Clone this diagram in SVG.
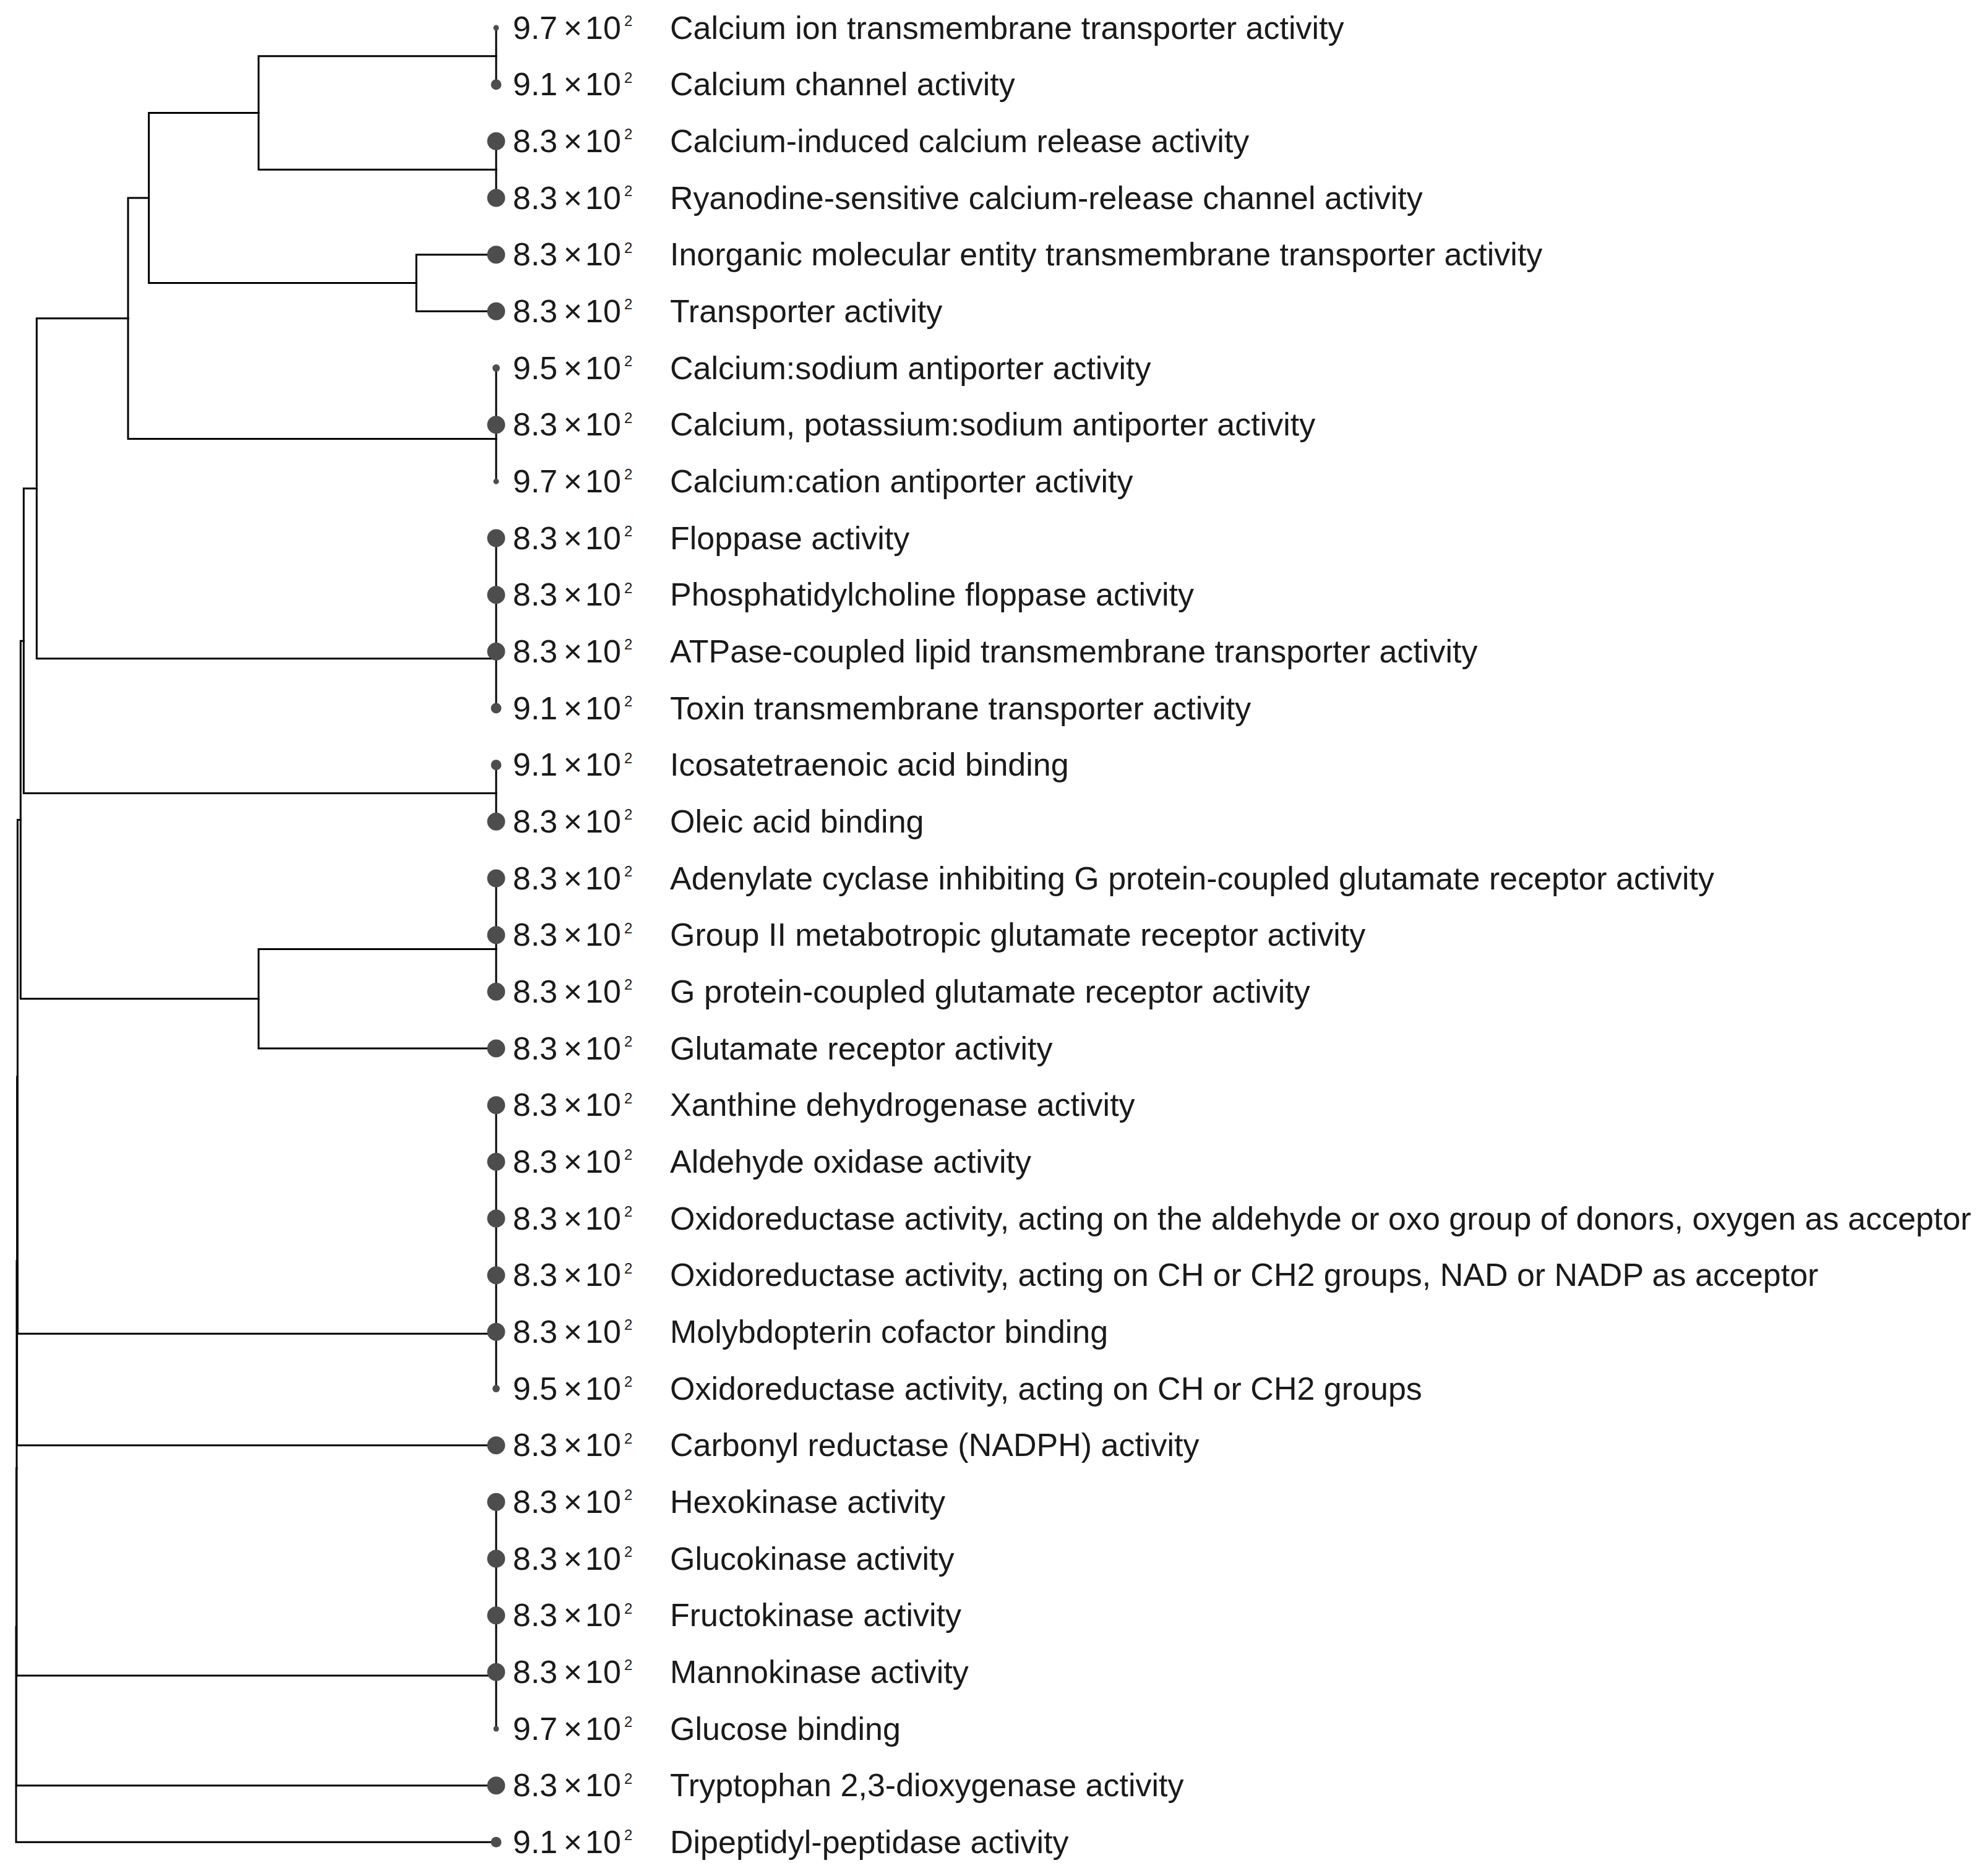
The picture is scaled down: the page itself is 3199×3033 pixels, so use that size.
<svg xmlns="http://www.w3.org/2000/svg" width="3199" height="3033" viewBox="0 0 3199 3033">
<style>
.edge{fill:none;stroke:#000;stroke-width:3;stroke-linecap:square}
.dot{fill:#4d4d4d}
.num,.lbl{font-family:'Liberation Sans',Arial,sans-serif;font-size:52px;fill:#1a1a1a}
.x{font-family:'Liberation Sans',Arial,sans-serif;font-size:52px;fill:#1a1a1a;text-anchor:middle}
.sup{font-family:'Liberation Sans',Arial,sans-serif;font-size:24px;fill:#1a1a1a}
</style>
<rect width="3199" height="3033" fill="#fff"/>
<g id="connectors" class="edge">
<path d="M802 45V136.67M802 228.33V320M802 595V778.33M802 870V1145M802 1236.67V1328.33M802 1420V1603.33M802 1786.67V2245M802 2428.33V2795"/>
<path d="M418 90.83H802M418 274.17H802M418 90.83V274.17"/>
<path d="M673 411.67H802M673 503.33H802M673 411.67V503.33"/>
<path d="M240.6 182.5H418M240.6 457.5H673M240.6 182.5V457.5"/>
<path d="M207 320H240.6M207 709.58H802M207 320V709.58"/>
<path d="M59.3 514.79H207M59.3 1064.79H802M59.3 514.79V1064.79"/>
<path d="M38.3 789.79H59.3M38.3 1282.5H802M38.3 789.79V1282.5"/>
<path d="M418 1534.58H802M418 1695H802M418 1534.58V1695"/>
<path d="M33.3 1036.15H38.3M33.3 1614.79H418M33.3 1036.15V1614.79"/>
<path d="M28.4 1325.47H33.3M28.4 2156.2H802M28.4 1325.47V2156.2"/>
<path d="M27.6 1740.8H28.4M27.6 2336.67H802M27.6 1740.8V2336.67"/>
<path d="M27 2038.7H27.6M27 2709.06H802M27 2038.7V2709.06"/>
<path d="M26.5 2373.9H27M26.5 2886.67H802M26.5 2373.9V2886.67"/>
<path d="M26 2630.3H26.5M26 2978.33H802M26 2630.3V2978.33"/>
</g>
<g id="row1"><circle class="dot" cx="802" cy="45" r="4.5"/><text class="num" x="829" y="62.5">9.7</text><text class="x" x="926" y="62.5">×</text><text class="num" x="946" y="62.5">10</text><text class="sup" x="1009" y="42">2</text><text class="lbl" x="1083" y="62.5">Calcium ion transmembrane transporter activity</text></g>
<g id="row2"><circle class="dot" cx="802" cy="136.67" r="8.5"/><text class="num" x="829" y="154.17">9.1</text><text class="x" x="926" y="154.17">×</text><text class="num" x="946" y="154.17">10</text><text class="sup" x="1009" y="133.67">2</text><text class="lbl" x="1083" y="154.17">Calcium channel activity</text></g>
<g id="row3"><circle class="dot" cx="802" cy="228.33" r="14.5"/><text class="num" x="829" y="245.83">8.3</text><text class="x" x="926" y="245.83">×</text><text class="num" x="946" y="245.83">10</text><text class="sup" x="1009" y="225.33">2</text><text class="lbl" x="1083" y="245.83">Calcium-induced calcium release activity</text></g>
<g id="row4"><circle class="dot" cx="802" cy="320" r="14.5"/><text class="num" x="829" y="337.5">8.3</text><text class="x" x="926" y="337.5">×</text><text class="num" x="946" y="337.5">10</text><text class="sup" x="1009" y="317">2</text><text class="lbl" x="1083" y="337.5">Ryanodine-sensitive calcium-release channel activity</text></g>
<g id="row5"><circle class="dot" cx="802" cy="411.67" r="14.5"/><text class="num" x="829" y="429.17">8.3</text><text class="x" x="926" y="429.17">×</text><text class="num" x="946" y="429.17">10</text><text class="sup" x="1009" y="408.67">2</text><text class="lbl" x="1083" y="429.17">Inorganic molecular entity transmembrane transporter activity</text></g>
<g id="row6"><circle class="dot" cx="802" cy="503.33" r="14.5"/><text class="num" x="829" y="520.83">8.3</text><text class="x" x="926" y="520.83">×</text><text class="num" x="946" y="520.83">10</text><text class="sup" x="1009" y="500.33">2</text><text class="lbl" x="1083" y="520.83">Transporter activity</text></g>
<g id="row7"><circle class="dot" cx="802" cy="595" r="6"/><text class="num" x="829" y="612.5">9.5</text><text class="x" x="926" y="612.5">×</text><text class="num" x="946" y="612.5">10</text><text class="sup" x="1009" y="592">2</text><text class="lbl" x="1083" y="612.5">Calcium:sodium antiporter activity</text></g>
<g id="row8"><circle class="dot" cx="802" cy="686.67" r="14.5"/><text class="num" x="829" y="704.17">8.3</text><text class="x" x="926" y="704.17">×</text><text class="num" x="946" y="704.17">10</text><text class="sup" x="1009" y="683.67">2</text><text class="lbl" x="1083" y="704.17">Calcium, potassium:sodium antiporter activity</text></g>
<g id="row9"><circle class="dot" cx="802" cy="778.33" r="4.5"/><text class="num" x="829" y="795.83">9.7</text><text class="x" x="926" y="795.83">×</text><text class="num" x="946" y="795.83">10</text><text class="sup" x="1009" y="775.33">2</text><text class="lbl" x="1083" y="795.83">Calcium:cation antiporter activity</text></g>
<g id="row10"><circle class="dot" cx="802" cy="870" r="14.5"/><text class="num" x="829" y="887.5">8.3</text><text class="x" x="926" y="887.5">×</text><text class="num" x="946" y="887.5">10</text><text class="sup" x="1009" y="867">2</text><text class="lbl" x="1083" y="887.5">Floppase activity</text></g>
<g id="row11"><circle class="dot" cx="802" cy="961.67" r="14.5"/><text class="num" x="829" y="979.17">8.3</text><text class="x" x="926" y="979.17">×</text><text class="num" x="946" y="979.17">10</text><text class="sup" x="1009" y="958.67">2</text><text class="lbl" x="1083" y="979.17">Phosphatidylcholine floppase activity</text></g>
<g id="row12"><circle class="dot" cx="802" cy="1053.33" r="14.5"/><text class="num" x="829" y="1070.83">8.3</text><text class="x" x="926" y="1070.83">×</text><text class="num" x="946" y="1070.83">10</text><text class="sup" x="1009" y="1050.33">2</text><text class="lbl" x="1083" y="1070.83">ATPase-coupled lipid transmembrane transporter activity</text></g>
<g id="row13"><circle class="dot" cx="802" cy="1145" r="8.5"/><text class="num" x="829" y="1162.5">9.1</text><text class="x" x="926" y="1162.5">×</text><text class="num" x="946" y="1162.5">10</text><text class="sup" x="1009" y="1142">2</text><text class="lbl" x="1083" y="1162.5">Toxin transmembrane transporter activity</text></g>
<g id="row14"><circle class="dot" cx="802" cy="1236.67" r="8.5"/><text class="num" x="829" y="1254.17">9.1</text><text class="x" x="926" y="1254.17">×</text><text class="num" x="946" y="1254.17">10</text><text class="sup" x="1009" y="1233.67">2</text><text class="lbl" x="1083" y="1254.17">Icosatetraenoic acid binding</text></g>
<g id="row15"><circle class="dot" cx="802" cy="1328.33" r="14.5"/><text class="num" x="829" y="1345.83">8.3</text><text class="x" x="926" y="1345.83">×</text><text class="num" x="946" y="1345.83">10</text><text class="sup" x="1009" y="1325.33">2</text><text class="lbl" x="1083" y="1345.83">Oleic acid binding</text></g>
<g id="row16"><circle class="dot" cx="802" cy="1420" r="14.5"/><text class="num" x="829" y="1437.5">8.3</text><text class="x" x="926" y="1437.5">×</text><text class="num" x="946" y="1437.5">10</text><text class="sup" x="1009" y="1417">2</text><text class="lbl" x="1083" y="1437.5">Adenylate cyclase inhibiting G protein-coupled glutamate receptor activity</text></g>
<g id="row17"><circle class="dot" cx="802" cy="1511.67" r="14.5"/><text class="num" x="829" y="1529.17">8.3</text><text class="x" x="926" y="1529.17">×</text><text class="num" x="946" y="1529.17">10</text><text class="sup" x="1009" y="1508.67">2</text><text class="lbl" x="1083" y="1529.17">Group II metabotropic glutamate receptor activity</text></g>
<g id="row18"><circle class="dot" cx="802" cy="1603.33" r="14.5"/><text class="num" x="829" y="1620.83">8.3</text><text class="x" x="926" y="1620.83">×</text><text class="num" x="946" y="1620.83">10</text><text class="sup" x="1009" y="1600.33">2</text><text class="lbl" x="1083" y="1620.83">G protein-coupled glutamate receptor activity</text></g>
<g id="row19"><circle class="dot" cx="802" cy="1695" r="14.5"/><text class="num" x="829" y="1712.5">8.3</text><text class="x" x="926" y="1712.5">×</text><text class="num" x="946" y="1712.5">10</text><text class="sup" x="1009" y="1692">2</text><text class="lbl" x="1083" y="1712.5">Glutamate receptor activity</text></g>
<g id="row20"><circle class="dot" cx="802" cy="1786.67" r="14.5"/><text class="num" x="829" y="1804.17">8.3</text><text class="x" x="926" y="1804.17">×</text><text class="num" x="946" y="1804.17">10</text><text class="sup" x="1009" y="1783.67">2</text><text class="lbl" x="1083" y="1804.17">Xanthine dehydrogenase activity</text></g>
<g id="row21"><circle class="dot" cx="802" cy="1878.33" r="14.5"/><text class="num" x="829" y="1895.83">8.3</text><text class="x" x="926" y="1895.83">×</text><text class="num" x="946" y="1895.83">10</text><text class="sup" x="1009" y="1875.33">2</text><text class="lbl" x="1083" y="1895.83">Aldehyde oxidase activity</text></g>
<g id="row22"><circle class="dot" cx="802" cy="1970" r="14.5"/><text class="num" x="829" y="1987.5">8.3</text><text class="x" x="926" y="1987.5">×</text><text class="num" x="946" y="1987.5">10</text><text class="sup" x="1009" y="1967">2</text><text class="lbl" x="1083" y="1987.5">Oxidoreductase activity, acting on the aldehyde or oxo group of donors, oxygen as acceptor</text></g>
<g id="row23"><circle class="dot" cx="802" cy="2061.67" r="14.5"/><text class="num" x="829" y="2079.17">8.3</text><text class="x" x="926" y="2079.17">×</text><text class="num" x="946" y="2079.17">10</text><text class="sup" x="1009" y="2058.67">2</text><text class="lbl" x="1083" y="2079.17">Oxidoreductase activity, acting on CH or CH2 groups, NAD or NADP as acceptor</text></g>
<g id="row24"><circle class="dot" cx="802" cy="2153.33" r="14.5"/><text class="num" x="829" y="2170.83">8.3</text><text class="x" x="926" y="2170.83">×</text><text class="num" x="946" y="2170.83">10</text><text class="sup" x="1009" y="2150.33">2</text><text class="lbl" x="1083" y="2170.83">Molybdopterin cofactor binding</text></g>
<g id="row25"><circle class="dot" cx="802" cy="2245" r="6"/><text class="num" x="829" y="2262.5">9.5</text><text class="x" x="926" y="2262.5">×</text><text class="num" x="946" y="2262.5">10</text><text class="sup" x="1009" y="2242">2</text><text class="lbl" x="1083" y="2262.5">Oxidoreductase activity, acting on CH or CH2 groups</text></g>
<g id="row26"><circle class="dot" cx="802" cy="2336.67" r="14.5"/><text class="num" x="829" y="2354.17">8.3</text><text class="x" x="926" y="2354.17">×</text><text class="num" x="946" y="2354.17">10</text><text class="sup" x="1009" y="2333.67">2</text><text class="lbl" x="1083" y="2354.17">Carbonyl reductase (NADPH) activity</text></g>
<g id="row27"><circle class="dot" cx="802" cy="2428.33" r="14.5"/><text class="num" x="829" y="2445.83">8.3</text><text class="x" x="926" y="2445.83">×</text><text class="num" x="946" y="2445.83">10</text><text class="sup" x="1009" y="2425.33">2</text><text class="lbl" x="1083" y="2445.83">Hexokinase activity</text></g>
<g id="row28"><circle class="dot" cx="802" cy="2520" r="14.5"/><text class="num" x="829" y="2537.5">8.3</text><text class="x" x="926" y="2537.5">×</text><text class="num" x="946" y="2537.5">10</text><text class="sup" x="1009" y="2517">2</text><text class="lbl" x="1083" y="2537.5">Glucokinase activity</text></g>
<g id="row29"><circle class="dot" cx="802" cy="2611.67" r="14.5"/><text class="num" x="829" y="2629.17">8.3</text><text class="x" x="926" y="2629.17">×</text><text class="num" x="946" y="2629.17">10</text><text class="sup" x="1009" y="2608.67">2</text><text class="lbl" x="1083" y="2629.17">Fructokinase activity</text></g>
<g id="row30"><circle class="dot" cx="802" cy="2703.33" r="14.5"/><text class="num" x="829" y="2720.83">8.3</text><text class="x" x="926" y="2720.83">×</text><text class="num" x="946" y="2720.83">10</text><text class="sup" x="1009" y="2700.33">2</text><text class="lbl" x="1083" y="2720.83">Mannokinase activity</text></g>
<g id="row31"><circle class="dot" cx="802" cy="2795" r="4.5"/><text class="num" x="829" y="2812.5">9.7</text><text class="x" x="926" y="2812.5">×</text><text class="num" x="946" y="2812.5">10</text><text class="sup" x="1009" y="2792">2</text><text class="lbl" x="1083" y="2812.5">Glucose binding</text></g>
<g id="row32"><circle class="dot" cx="802" cy="2886.67" r="14.5"/><text class="num" x="829" y="2904.17">8.3</text><text class="x" x="926" y="2904.17">×</text><text class="num" x="946" y="2904.17">10</text><text class="sup" x="1009" y="2883.67">2</text><text class="lbl" x="1083" y="2904.17">Tryptophan 2,3-dioxygenase activity</text></g>
<g id="row33"><circle class="dot" cx="802" cy="2978.33" r="8.5"/><text class="num" x="829" y="2995.83">9.1</text><text class="x" x="926" y="2995.83">×</text><text class="num" x="946" y="2995.83">10</text><text class="sup" x="1009" y="2975.33">2</text><text class="lbl" x="1083" y="2995.83">Dipeptidyl-peptidase activity</text></g>
</svg>
